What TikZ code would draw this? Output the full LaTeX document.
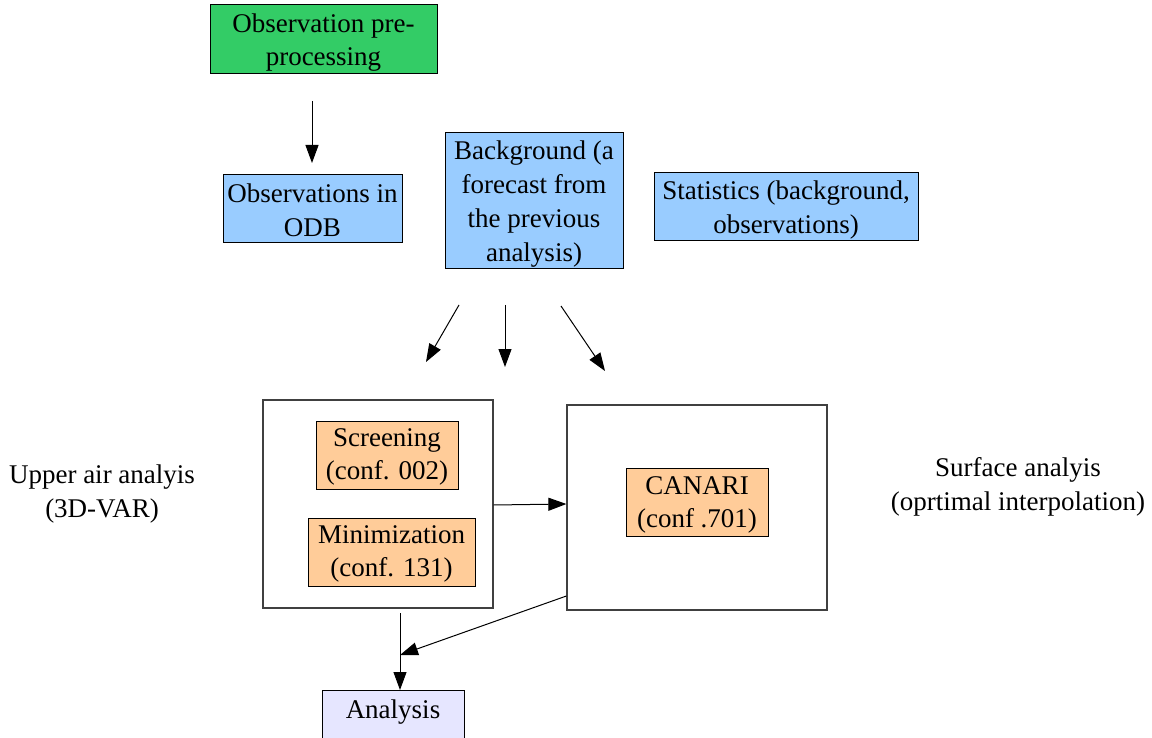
\documentclass[tikz,border=0pt]{standalone}
\usepackage{fontspec}
\setmainfont{Liberation Serif}
\usetikzlibrary{arrows.meta}
\definecolor{cgreen}{HTML}{33CC66}
\definecolor{cblue}{HTML}{99CCFF}
\definecolor{corange}{HTML}{FFCC99}
\definecolor{clav}{HTML}{E6E6FF}
\begin{document}
\begin{tikzpicture}[x=1pt,y=-1pt,
  txt/.style={font=\fontsize{27}{33.7}\selectfont, align=center, inner sep=0pt},
  box/.style={draw=black, line width=1pt, rectangle, inner sep=0pt},
  big/.style={draw=black!75, line width=1.2pt, rectangle, inner sep=0pt},
  arr/.style={-{Triangle[length=18pt,width=13pt]}, line width=1pt}]
\useasboundingbox (0,0) rectangle (1152,738);
% boxes
\node[box, fill=cgreen, minimum width=227, minimum height=69] (pre) at (323.5,39.5) {};
\node[box, fill=cblue, minimum width=179, minimum height=68] (odb) at (312.5,209) {};
\node[box, fill=cblue, minimum width=178, minimum height=136] (bg) at (534,201) {};
\node[box, fill=cblue, minimum width=264, minimum height=68] (stat) at (786,207) {};
\node[big, minimum width=230, minimum height=208] (upper) at (378,504) {};
\node[box, fill=corange, minimum width=142, minimum height=68] (scr) at (387,455) {};
\node[box, fill=corange, minimum width=167, minimum height=68] (min) at (391.5,552) {};
\node[big, minimum width=260, minimum height=205] (surf) at (697,507.5) {};
\node[box, fill=corange, minimum width=142, minimum height=68] (can) at (697,502) {};
\node[box, fill=clav, minimum width=142, minimum height=60, anchor=north] (ana) at (393,690) {};
% texts
\node[txt] (pre-t) at ([yshift=-3pt]pre.center) {Observation pre-\\processing};
\node[txt] (odb-t) at ([yshift=-1pt]odb.center) {Observations in\\ODB};
\node[txt] (bg-t) at ([yshift=-3pt]bg.center) {Background (a\\forecast from\\the previous\\analysis)};
\node[txt] (stat-t) at ([yshift=-3pt]stat.center) {Statistics (background,\\observations)};
\node[txt] (scr-t) at ([yshift=-2pt]scr.center) {Screening\\(conf. 002)};
\node[txt] (min-t) at ([yshift=-2pt]min.center) {Minimization\\(conf. 131)};
\node[txt] (can-t) at ([yshift=-3pt]can.center) {CANARI\\(conf .701)};
\node[txt, anchor=base] (ana-t) at (393,718) {Analysis};
\node[txt] (lu) at (102,494) {Upper air analyis\\(3D-VAR)};
\node[txt] (lsf) at (1018,487) {Surface analyis\\(oprtimal interpolation)};
% free ends
\coordinate (a1s) at (312,101); \coordinate (a1e) at (312,163);
\coordinate (a2s) at (459,305); \coordinate (a2e) at (426,362);
\coordinate (a3s) at (505,305); \coordinate (a3e) at (505,367);
\coordinate (a4s) at (561,306); \coordinate (a4e) at (605,371);
\coordinate (m1) at (400,655);
% arrows
\draw[arr] (a1s) -- (a1e);
\draw[arr] (a2s) -- (a2e);
\draw[arr] (a3s) -- (a3e);
\draw[arr] (a4s) -- (a4e);
\draw[arr] (upper.east |- 0,505) -- (surf.west |- 0,504);
\draw[arr] (surf.west |- 0,596) -- (m1);
\draw[arr] (400,613) -- (ana.north -| 400,0);
\end{tikzpicture}
\end{document}
